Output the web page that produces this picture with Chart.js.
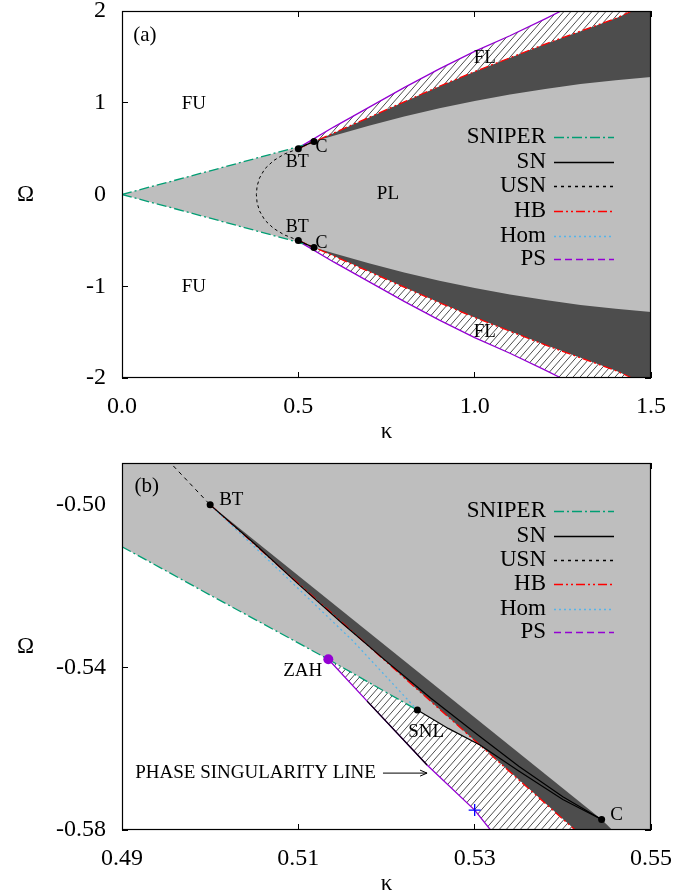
<!DOCTYPE html>
<html><head><meta charset="utf-8">
<script src="https://cdn.jsdelivr.net/npm/chart.js@4.4.1/dist/chart.umd.min.js"></script>
<style>
html,body{margin:0;padding:0;background:#fff;}
#wrap{position:relative;width:684px;height:895px;overflow:hidden;}
#ca{position:absolute;left:0;top:0;}
#cb{position:absolute;left:0;top:448px;}
</style></head><body>
<div id="wrap"><canvas id="ca" width="684" height="448"></canvas><canvas id="cb" width="684" height="447"></canvas></div>
<script>
// ================= DATA : panel (a) =================
const xTicksA = [0, 0.5, 1.0, 1.5];
const xTickLabelsA = ['0.0', '0.5', '1.0', '1.5'];
const yTicksA = [-2, -1, 0, 1, 2];
const yTickLabelsA = ['-2', '-1', '0', '1', '2'];

const sniperKappaA = [0, 0.25, 0.49, 0.5134, 0.5235];
const sniperUpA    = [0, 0.258, 0.5103, 0.538, 0.5505];
const sniperLoA    = [0, -0.258, -0.5103, -0.538, -0.5505];

const usnKappaA = [0.5, 0.46, 0.43, 0.405, 0.39, 0.383, 0.381, 0.383, 0.39, 0.405, 0.43, 0.46, 0.5];
const usnOmegaA = [0.5, 0.44, 0.37, 0.28, 0.18, 0.09, 0, -0.09, -0.18, -0.28, -0.37, -0.44, -0.5];

const snKappaA = [0.5, 0.52, 0.5444];
const snUpA    = [0.5, 0.5385, 0.5774];
const snLoA    = [-0.5, -0.5385, -0.5774];

const hbKappaA = [0.5, 0.6, 0.7, 0.8, 0.9, 1.0, 1.1, 1.2, 1.3, 1.4, 1.446];
const hbUpA    = [0.5, 0.67, 0.84, 1.01, 1.18, 1.34, 1.49, 1.64, 1.78, 1.92, 2.0];
const hbLoA    = [-0.5, -0.67, -0.84, -1.01, -1.18, -1.34, -1.49, -1.64, -1.78, -1.92, -2.0];

const homKappaA = [0.5, 0.5235];
const homUpA    = [0.5, 0.5505];
const homLoA    = [-0.5, -0.5505];

const psKappaA = [0.5134, 0.6, 0.7, 0.8, 0.9, 1.0, 1.1, 1.2, 1.245];
const psUpA    = [0.538, 0.735, 0.95, 1.165, 1.37, 1.56, 1.73, 1.915, 2.0];
const psLoA    = [-0.538, -0.735, -0.95, -1.165, -1.37, -1.56, -1.73, -1.915, -2.0];

// lower edge of the dark (bistable) band, starting at the cusp C
const edgeKappaA = [0.5444, 0.6, 0.7, 0.8, 0.9, 1.0, 1.1, 1.2, 1.3, 1.4, 1.5];
const edgeUpA    = [0.5774, 0.64, 0.75, 0.85, 0.94, 1.02, 1.09, 1.15, 1.205, 1.245, 1.28];
const edgeLoA    = [-0.5774, -0.64, -0.75, -0.85, -0.94, -1.02, -1.09, -1.15, -1.205, -1.245, -1.28];

const btKappaA = [0.5, 0.5];
const btOmegaA = [0.5, -0.5];
const cKappaA  = [0.5444, 0.5444];
const cOmegaA  = [0.5774, -0.5774];

// ================= DATA : panel (b) =================
const xTicksB = [0.49, 0.51, 0.53, 0.55];
const xTickLabelsB = ['0.49', '0.51', '0.53', '0.55'];
const yTicksB = [-0.58, -0.54, -0.50];
const yTickLabelsB = ['-0.58', '-0.54', '-0.50'];

const sniperKappaB = [0.49, 0.5, 0.5134, 0.5235];
const sniperOmegaB = [-0.5103, -0.5222, -0.538, -0.5505];

const usnKappaB = [0.4952, 0.5];
const usnOmegaB = [-0.489, -0.5];

const snKappaB = [0.5, 0.505, 0.51, 0.515, 0.52, 0.525, 0.53, 0.535, 0.54, 0.5444];
const snOmegaB = [-0.5, -0.5095, -0.5195, -0.5292, -0.5385, -0.5475, -0.556, -0.5643, -0.5718, -0.5774];

const hbKappaB = [0.5, 0.5207, 0.5414];
const hbOmegaB = [-0.5, -0.54, -0.58];

const homKappaB = [0.5, 0.5085, 0.5162, 0.5235];
const homOmegaB = [-0.5, -0.5175, -0.5335, -0.5505];

const psKappaB = [0.5134, 0.5178, 0.5246, 0.53, 0.5318];
const psOmegaB = [-0.538, -0.5483, -0.564, -0.5751, -0.58];

const snlKappaB = [0.5235, 0.527, 0.5306, 0.535, 0.54, 0.5444];
const snlOmegaB = [-0.5505, -0.555, -0.5591, -0.5655, -0.5725, -0.5774];

const edgeKappaB = [0.5, 0.5444, 0.5456];
const edgeOmegaB = [-0.5, -0.5774, -0.58];

const btKappaB = [0.5], btOmegaB = [-0.5];
const cKappaB = [0.5444], cOmegaB = [-0.5774];
const snlPtKappaB = [0.5235], snlPtOmegaB = [-0.5505];
const zahKappaB = [0.5134], zahOmegaB = [-0.538];
const plusKappaB = [0.53], plusOmegaB = [-0.5751];

// ================= styles / layout =================
const FONT = "'Liberation Serif','Times New Roman',serif";
const COL = {gray:'#bebebe', dark:'#4d4d4d', sniper:'#009e73', hb:'#ff0000', hom:'#56b4e9', ps:'#9400d3'};
const legendItems = [
  {label:'SNIPER', color:COL.sniper, dash:[10,3,2,3]},
  {label:'SN', color:'#000', dash:[]},
  {label:'USN', color:'#000', dash:[3,4]},
  {label:'HB', color:COL.hb, dash:[9,3,2,3,2,3]},
  {label:'Hom', color:COL.hom, dash:[2,3]},
  {label:'PS', color:COL.ps, dash:[7,4]}
];

const P = (xs, ys) => xs.map((x, i) => ({x: x, y: ys[i]}));
const R = a => a.slice().reverse();

function hatchPattern(ctx) {
  const w = 7, h = 8;
  const c = document.createElement('canvas'); c.width = w; c.height = h;
  const g = c.getContext('2d');
  g.fillStyle = '#fff'; g.fillRect(0, 0, w, h);
  g.strokeStyle = '#3a3a3a'; g.lineWidth = 0.9;
  g.beginPath();
  g.moveTo(-1, h + h / w); g.lineTo(w + 1, -h / w);
  g.moveTo(-1, h / w); g.lineTo(1, -h / w);
  g.moveTo(w - 1, h + h / w); g.lineTo(w + 1, h - h / w);
  g.stroke();
  return ctx.createPattern(c, 'repeat');
}

function lineDS(label, data, color, dash, width, order) {
  return {label, data, borderColor: color, borderDash: dash, borderWidth: width, fill: false,
    pointRadius: 0, order, tension: 0, clip: 0};
}
function polyDS(data, bg, order) {
  return {data, borderWidth: 0, borderColor: 'rgba(0,0,0,0)', backgroundColor: bg, fill: 'shape',
    pointRadius: 0, order, tension: 0, clip: 0};
}
function markDS(data, color, r, order, style) {
  return {data, showLine: false, pointRadius: r, pointHoverRadius: r, pointBackgroundColor: color,
    pointBorderColor: color, pointBorderWidth: style === 'cross' ? 1.3 : 0, pointStyle: style || 'circle', order, clip: false};
}

function makeScales(xr, yr, xt, xl, yt, yl, xh) {
  const setTicks = vals => s => { s.ticks = vals.map(v => ({value: v})); };
  const grid = () => ({drawOnChartArea: false, drawTicks: true, tickLength: -6, color: '#000', lineWidth: 1});
  const noPad = s => { s.paddingLeft = 0; s.paddingRight = 0; s.paddingTop = 0; s.paddingBottom = 0; };
  return {
    x: {type: 'linear', position: 'bottom', min: xr[0], max: xr[1], border: {display: false}, grid: grid(),
      afterBuildTicks: setTicks(xt),
      ticks: {padding: 20, autoSkip: false, maxRotation: 0, color: '#000', font: {family: FONT, size: 24},
        callback: (v, i) => xl[i]},
      afterFit: s => { s.height = xh; noPad(s); }},
    x2: {type: 'linear', position: 'top', min: xr[0], max: xr[1], border: {display: false}, grid: grid(),
      afterBuildTicks: setTicks(xt), ticks: {display: false}, afterFit: s => { s.height = 0; noPad(s); }},
    y: {type: 'linear', position: 'left', min: yr[0], max: yr[1], border: {display: false}, grid: grid(),
      afterBuildTicks: setTicks(yt),
      ticks: {padding: 22, autoSkip: false, color: '#000', font: {family: FONT, size: 24},
        callback: (v, i) => yl[i]},
      afterFit: s => { s.width = 122; noPad(s); }},
    y2: {type: 'linear', position: 'right', min: yr[0], max: yr[1], border: {display: false}, grid: grid(),
      afterBuildTicks: setTicks(yt), ticks: {display: false}, afterFit: s => { s.width = 0; noPad(s); }}
  };
}

// decoration plugin: frame, axis titles, labels, legend
function decoPlugin(cfg) {
  return {
    id: 'deco',
    afterDatasetsDraw(chart) {
      const ctx = chart.ctx, a = chart.chartArea;
      ctx.save();
      ctx.strokeStyle = '#000'; ctx.lineWidth = 1.2;
      ctx.strokeRect(a.left + 0.5, a.top + 0.5, a.right - a.left - 1, a.bottom - a.top - 1);
      ctx.restore();
    },
    afterDraw(chart) {
      const ctx = chart.ctx, a = chart.chartArea;
      const xs = chart.scales.x, ys = chart.scales.y;
      ctx.save();
      ctx.fillStyle = '#000';
      ctx.textBaseline = 'middle';
      ctx.textAlign = 'center';
      ctx.font = '23px ' + FONT;
      ctx.fillText('\u03A9', 25.5, (a.top + a.bottom) / 2);
      ctx.fillText('\u03BA', (a.left + a.right) / 2, a.bottom + 53.5);
      cfg.ann.forEach(t => {
        ctx.font = t.size + 'px ' + FONT;
        ctx.textAlign = t.align || 'center';
        ctx.fillText(t.t, xs.getPixelForValue(t.x), ys.getPixelForValue(t.y));
      });
      if (cfg.arrow) {
        const x1 = xs.getPixelForValue(cfg.arrow[0]), x2 = xs.getPixelForValue(cfg.arrow[1]);
        const y = ys.getPixelForValue(cfg.arrow[2]);
        ctx.strokeStyle = '#000'; ctx.lineWidth = 1;
        ctx.beginPath(); ctx.moveTo(x1, y); ctx.lineTo(x2, y);
        ctx.moveTo(x2 - 7, y - 3); ctx.lineTo(x2, y); ctx.lineTo(x2 - 7, y + 3);
        ctx.stroke();
      }
      ctx.font = '23px ' + FONT;
      ctx.textAlign = 'right';
      legendItems.forEach((it, i) => {
        const y = cfg.legendRows[i];
        ctx.fillStyle = '#000';
        ctx.fillText(it.label, cfg.legendTextX, y);
        ctx.strokeStyle = it.color; ctx.lineWidth = 1.4;
        ctx.setLineDash(it.dash);
        ctx.beginPath(); ctx.moveTo(cfg.legendLine[0], y + 0.5); ctx.lineTo(cfg.legendLine[1], y + 0.5); ctx.stroke();
        ctx.setLineDash([]);
      });
      ctx.restore();
    }
  };
}

// ================= panel (a) =================
const xMinA = 0, xMaxA = 1.5, yMinA = -2, yMaxA = 2;
const ctxA = document.getElementById('ca').getContext('2d');
const hatchA = hatchPattern(ctxA);

const grayA = [{x: 0, y: 0}, ...P(sniperKappaA.slice(1, 4), sniperUpA.slice(1, 4)), ...P(psKappaA.slice(1), psUpA.slice(1)),
  {x: xMaxA, y: yMaxA}, {x: xMaxA, y: yMinA}, ...R(P(psKappaA, psLoA)), ...R(P(sniperKappaA.slice(1, 3), sniperLoA.slice(1, 3)))];
const darkUpA = [...P(hbKappaA, hbUpA), {x: xMaxA, y: yMaxA}, ...R(P(edgeKappaA, edgeUpA))];
const darkLoA = [...P(hbKappaA, hbLoA), {x: xMaxA, y: yMinA}, ...R(P(edgeKappaA, edgeLoA))];
const hatchUpA = [...P(psKappaA, psUpA), ...R(P(hbKappaA.slice(1), hbUpA.slice(1))), {x: sniperKappaA[4], y: sniperUpA[4]}];
const hatchLoA = [...P(psKappaA, psLoA), ...R(P(hbKappaA.slice(1), hbLoA.slice(1))), {x: sniperKappaA[4], y: sniperLoA[4]}];

new Chart(ctxA, {
  type: 'line',
  data: {datasets: [
    markDS(P(btKappaA, btOmegaA), '#000', 3.5, 0),
    markDS(P(cKappaA, cOmegaA), '#000', 3.5, 0),
    lineDS('SN', P(snKappaA, snUpA), '#000', [], 1.2, 2),
    lineDS('SN', P(snKappaA, snLoA), '#000', [], 1.2, 2),
    lineDS('USN', P(usnKappaA, usnOmegaA), '#000', [3, 3], 1.0, 2),
    lineDS('Hom', P(homKappaA, homUpA), COL.hom, [2, 3], 1.3, 3),
    lineDS('Hom', P(homKappaA, homLoA), COL.hom, [2, 3], 1.3, 3),
    lineDS('HB', P(hbKappaA, hbUpA), COL.hb, [9, 3, 2, 3, 2, 3], 1.3, 4),
    lineDS('HB', P(hbKappaA, hbLoA), COL.hb, [9, 3, 2, 3, 2, 3], 1.3, 4),
    lineDS('PS', P(psKappaA, psUpA), COL.ps, [], 1.3, 5),
    lineDS('PS', P(psKappaA, psLoA), COL.ps, [], 1.3, 5),
    lineDS('SNIPER', P(sniperKappaA, sniperUpA), COL.sniper, [10, 3, 2, 3], 1.3, 6),
    lineDS('SNIPER', P(sniperKappaA, sniperLoA), COL.sniper, [10, 3, 2, 3], 1.3, 6),
    polyDS(hatchUpA, hatchA, 20),
    polyDS(hatchLoA, hatchA, 20),
    polyDS(darkUpA, COL.dark, 21),
    polyDS(darkLoA, COL.dark, 21),
    polyDS(grayA, COL.gray, 22)
  ]},
  options: {
    responsive: false, animation: false, devicePixelRatio: 1,
    layout: {padding: {left: 0, right: 33, top: 11, bottom: 0}},
    plugins: {legend: {display: false}, tooltip: {enabled: false}},
    scales: makeScales([xMinA, xMaxA], [yMinA, yMaxA], xTicksA, xTickLabelsA, yTicksA, yTickLabelsA, 70)
  },
  plugins: [decoPlugin({
    ann: [
      {t: '(a)', x: 0.065, y: 1.738, size: 21},
      {t: 'FU', x: 0.204, y: 0.986, size: 19},
      {t: 'FU', x: 0.204, y: -1.008, size: 19},
      {t: 'PL', x: 0.754, y: 0, size: 19},
      {t: 'FL', x: 1.029, y: 1.484, size: 19},
      {t: 'FL', x: 1.029, y: -1.495, size: 19},
      {t: 'BT', x: 0.497, y: 0.35, size: 18},
      {t: 'BT', x: 0.497, y: -0.36, size: 18},
      {t: 'C', x: 0.566, y: 0.52, size: 18},
      {t: 'C', x: 0.566, y: -0.53, size: 18}
    ],
    legendRows: [137, 162, 186, 211, 236, 259],
    legendTextX: 546, legendLine: [554, 614]
  })]
});

// ================= panel (b) =================
const xMinB = 0.49, xMaxB = 0.55, yMinB = -0.58, yMaxB = -0.4897;
const ctxB = document.getElementById('cb').getContext('2d');
const hatchB = hatchPattern(ctxB);

const grayB = [...P(sniperKappaB.slice(0, 3), sniperOmegaB.slice(0, 3)), ...P(psKappaB.slice(1), psOmegaB.slice(1)),
  {x: xMaxB, y: yMinB}, {x: xMaxB, y: yMaxB}, {x: xMinB, y: yMaxB}];
const darkB = [...P(hbKappaB, hbOmegaB), ...R(P(edgeKappaB.slice(1), edgeOmegaB.slice(1)))];
const hatchBpoly = [...P(sniperKappaB.slice(2), sniperOmegaB.slice(2)), ...P(snlKappaB.slice(1, 3), snlOmegaB.slice(1, 3)),
  {x: hbKappaB[2], y: hbOmegaB[2]}, ...R(P(psKappaB.slice(1), psOmegaB.slice(1)))];

new Chart(ctxB, {
  type: 'line',
  data: {datasets: [
    markDS(P(zahKappaB, zahOmegaB), COL.ps, 5, 0),
    markDS(P(btKappaB, btOmegaB), '#000', 3.5, 0),
    markDS(P(cKappaB, cOmegaB), '#000', 3.5, 0),
    markDS(P(snlPtKappaB, snlPtOmegaB), '#000', 3.5, 0),
    markDS(P(plusKappaB, plusOmegaB), '#0000ff', 6, 0, 'cross'),
    lineDS('SN', P(snKappaB, snOmegaB), '#000', [], 1.2, 2),
    lineDS('SNL', P(snlKappaB, snlOmegaB), '#000', [], 1.2, 2),
    lineDS('PSblack', P(psKappaB.slice(1, 3), psOmegaB.slice(1, 3)), '#000', [], 1.2, 2),
    lineDS('USN', P(usnKappaB, usnOmegaB), '#000', [4, 4], 1.0, 2),
    lineDS('Hom', P(homKappaB, homOmegaB), COL.hom, [2, 3], 1.3, 3),
    lineDS('HB', P(hbKappaB, hbOmegaB), COL.hb, [9, 3, 2, 3, 2, 3], 1.3, 4),
    lineDS('PS', P(psKappaB, psOmegaB), COL.ps, [], 1.3, 5),
    lineDS('SNIPER', P(sniperKappaB, sniperOmegaB), COL.sniper, [10, 3, 2, 3], 1.3, 6),
    polyDS(hatchBpoly, hatchB, 20),
    polyDS(darkB, COL.dark, 21),
    polyDS(grayB, COL.gray, 22)
  ]},
  options: {
    responsive: false, animation: false, devicePixelRatio: 1,
    layout: {padding: {left: 0, right: 33, top: 15, bottom: 0}},
    plugins: {legend: {display: false}, tooltip: {enabled: false}},
    scales: makeScales([xMinB, xMaxB], [yMinB, yMaxB], xTicksB, xTickLabelsB, yTicksB, yTickLabelsB, 65)
  },
  plugins: [decoPlugin({
    ann: [
      {t: '(b)', x: 0.4928, y: -0.4956, size: 21},
      {t: 'BT', x: 0.5024, y: -0.4989, size: 19},
      {t: 'ZAH', x: 0.5105, y: -0.541, size: 19},
      {t: 'SNL', x: 0.5245, y: -0.5558, size: 19},
      {t: 'PHASE SINGULARITY LINE', x: 0.5188, y: -0.566, size: 19, align: 'right'},
      {t: 'C', x: 0.5461, y: -0.5763, size: 19}
    ],
    arrow: [0.5196, 0.5246, -0.566],
    legendRows: [63, 88, 112, 136, 161, 184],
    legendTextX: 546, legendLine: [554, 614]
  })]
});
</script>
</body></html>
